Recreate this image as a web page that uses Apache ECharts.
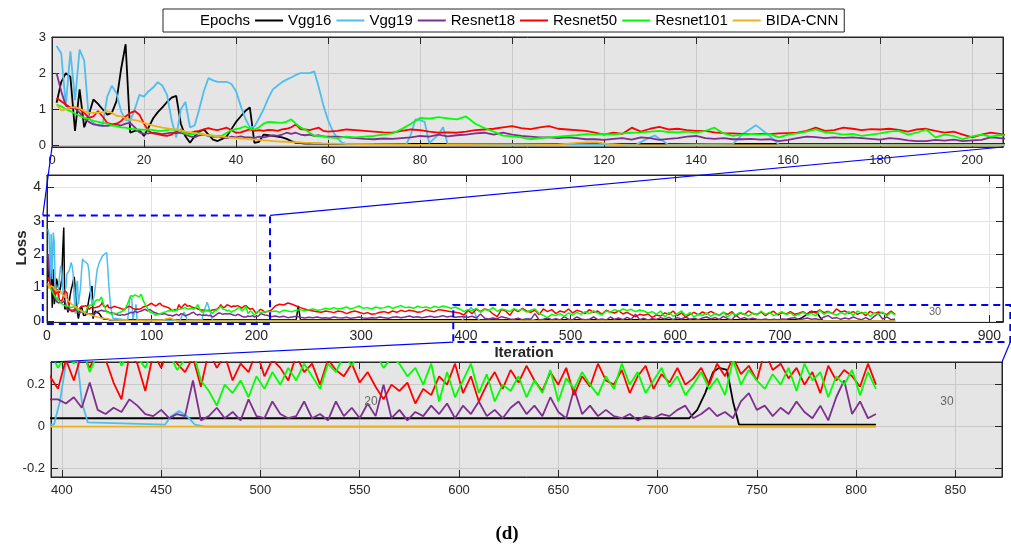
<!DOCTYPE html>
<html>
<head>
<meta charset="utf-8" />
<title>Loss</title>
<script src="https://cdn.jsdelivr.net/npm/echarts@6/dist/echarts.min.js"></script>
<style>
html, body { margin:0; padding:0; background:#fff; }
#main { width:1011px; height:547px; }
</style>
</head>
<body>
<div id="main"></div>
<script type="text/javascript">
var names = ['Vgg16', 'Vgg19', 'Resnet18', 'Resnet50', 'Resnet101', 'BIDA-CNN'];
var colors = ['#000000', '#4dbeee', '#7e2f8e', '#ff0000', '#00ff00', '#edb120'];

// iterations 1..60, one value per iteration
var vgg16A = [1.18,1.75,2.0,1.9,0.4,1.55,0.5,0.85,1.27,1.15,1.0,0.85,0.9,1.22,2.1,2.8,0.35,0.4,0.42,0.26,
  0.5,0.75,0.92,1.05,1.2,1.32,1.37,0.6,0.25,0.07,0.25,0.38,0.44,0.3,0.16,0.12,0.18,0.25,0.45,0.65,
  0.8,0.95,1.05,0.07,0.1,0.3,0.28,0.26,0.24,0.22,0.18,0.12,0.07,0.06,0.05,0.05,0.05,0.05,0.04,0.04];
var vgg19A = [2.75,2.55,1.1,2.6,1.25,2.65,2.35,0.75,0.62,0.55,0.55,1.35,1.65,1.45,0.95,0.7,0.68,1.0,1.4,1.35,
  1.5,1.6,1.75,1.65,1.4,0.7,0.22,1.0,1.2,0.5,0.55,1.0,1.5,1.86,1.8,1.76,1.76,1.76,1.7,1.5,
  1.1,0.75,0.5,0.52,0.75,1.0,1.3,1.55,1.65,1.75,1.82,1.88,1.95,2.0,2.0,2.0,2.05,1.6,1.1,0.7];
var res18A = [2.0,1.5,1.1,1.03,1.03,0.9,0.75,0.65,0.58,0.56,0.54,0.54,0.56,0.58,0.55,0.6,0.62,0.5,0.36,0.32,
  0.33,0.35,0.33,0.31,0.33,0.35,0.34,0.35,0.3,0.25,0.22,0.28,0.3,0.26,0.24,0.25,0.22,0.2,0.24,0.22,
  0.25,0.22,0.22,0.2,0.24,0.22,0.25,0.28,0.26,0.3,0.35,0.32,0.35,0.3,0.28,0.3,0.26,0.28,0.25,0.24];
var res50A = [1.31,1.22,1.13,1.05,1.05,1.0,0.9,0.76,0.8,0.95,0.8,0.62,0.58,0.6,0.67,0.8,0.9,0.95,0.85,0.6,
  0.4,0.33,0.31,0.28,0.26,0.3,0.38,0.44,0.35,0.34,0.38,0.4,0.44,0.48,0.44,0.42,0.46,0.49,0.42,0.35,
  0.36,0.4,0.44,0.4,0.42,0.4,0.43,0.42,0.4,0.44,0.46,0.5,0.58,0.45,0.44,0.42,0.46,0.49,0.4,0.38];
var res101A = [1.13,1.08,1.0,0.95,0.88,0.82,0.76,0.73,0.68,0.65,0.62,0.6,0.55,0.53,0.5,0.49,0.46,0.44,0.44,0.43,
  0.44,0.42,0.4,0.4,0.42,0.44,0.43,0.4,0.33,0.3,0.32,0.34,0.3,0.28,0.27,0.25,0.27,0.35,0.42,0.45,
  0.48,0.53,0.46,0.44,0.5,0.6,0.65,0.64,0.63,0.62,0.66,0.72,0.6,0.5,0.44,0.35,0.27,0.26,0.25,0.22];
var bidaA = [1.13,0.97,1.0,1.05,1.05,1.02,0.95,0.9,0.9,0.9,0.92,0.95,0.9,0.82,0.8,0.75,0.72,0.7,0.67,0.62,
  0.58,0.55,0.52,0.49,0.47,0.45,0.44,0.42,0.38,0.36,0.34,0.32,0.3,0.28,0.27,0.25,0.24,0.22,0.21,0.2,
  0.19,0.18,0.17,0.16,0.15,0.14,0.13,0.12,0.11,0.1,0.1,0.09,0.09,0.08,0.07,0.07,0.06,0.06,0.05,0.05];

// iterations 62..210, every 2
var res18B = [0.24,0.22,0.20,0.18,0.17,0.19,0.18,0.20,0.22,0.26,0.24,0.30,0.25,0.28,0.30,0.33,0.35,0.30,0.35,0.30,
  0.26,0.24,0.22,0.22,0.20,0.22,0.20,0.17,0.17,0.15,0.18,0.20,0.16,0.22,0.20,0.15,0.18,0.20,0.24,0.26,
  0.20,0.18,0.20,0.17,0.17,0.18,0.16,0.17,0.12,0.15,0.20,0.24,0.23,0.20,0.22,0.21,0.22,0.20,0.18,0.16,
  0.20,0.18,0.14,0.12,0.12,0.15,0.13,0.16,0.12,0.14,0.15,0.22,0.20,0.18,0.17];
var res50B = [0.40,0.44,0.42,0.40,0.38,0.36,0.35,0.40,0.44,0.42,0.38,0.35,0.36,0.35,0.38,0.42,0.44,0.46,0.50,0.53,
  0.48,0.45,0.50,0.53,0.46,0.44,0.42,0.40,0.35,0.30,0.35,0.32,0.49,0.38,0.46,0.51,0.44,0.46,0.42,0.40,
  0.40,0.36,0.34,0.33,0.32,0.31,0.32,0.31,0.33,0.34,0.35,0.40,0.49,0.40,0.42,0.49,0.46,0.42,0.45,0.44,
  0.46,0.43,0.38,0.44,0.46,0.40,0.35,0.38,0.30,0.22,0.30,0.35,0.32,0.26,0.28];
var res101B = [0.20,0.24,0.22,0.24,0.26,0.30,0.33,0.45,0.60,0.76,0.74,0.78,0.75,0.72,0.80,0.60,0.48,0.38,0.27,0.25,
  0.22,0.17,0.20,0.22,0.24,0.26,0.28,0.31,0.30,0.32,0.30,0.33,0.35,0.36,0.38,0.40,0.37,0.36,0.38,0.35,
  0.40,0.49,0.33,0.26,0.30,0.32,0.30,0.31,0.22,0.30,0.33,0.38,0.44,0.36,0.34,0.30,0.32,0.26,0.30,0.33,
  0.38,0.40,0.30,0.35,0.44,0.22,0.30,0.26,0.17,0.25,0.30,0.24,0.28,0.27,0.29];

// iterations 214..394, every 4
var res18C = [0.13,0.15,0.12,0.14,0.10,0.12,0.14,0.11,0.09,0.11,0.10,0.12,0.09,0.10,0.08,0.12,0.10,0.09,0.11,0.08,
  0.10,0.12,0.09,0.08,0.10,0.09,0.12,0.10,0.08,0.11,0.13,0.10,0.12,0.15,0.11,0.13,0.10,0.12,0.14,0.11,
  0.13,0.16,0.12,0.14,0.11,0.13];
var res50C = [0.32,0.45,0.50,0.48,0.54,0.50,0.45,0.40,0.36,0.32,0.30,0.28,0.26,0.30,0.28,0.25,0.30,0.28,0.22,0.27,
  0.30,0.26,0.22,0.25,0.20,0.22,0.26,0.28,0.24,0.30,0.26,0.32,0.28,0.32,0.30,0.26,0.28,0.34,0.30,0.28,
  0.34,0.32,0.30,0.28,0.26,0.24];
var res101C = [0.28,0.30,0.26,0.32,0.30,0.28,0.32,0.34,0.30,0.34,0.36,0.32,0.34,0.38,0.35,0.40,0.36,0.38,0.42,0.36,
  0.40,0.45,0.38,0.40,0.36,0.42,0.38,0.40,0.44,0.38,0.42,0.46,0.40,0.42,0.38,0.44,0.40,0.42,0.38,0.44,
  0.40,0.45,0.42,0.38,0.42,0.36];

// iterations 398..810, every 4
var res18D = [0.13,0.11,0.14,0.09,0.21,0.08,0.06,0.09,0.07,0.13,0.10,0.06,0.05,0.08,0.04,0.06,0.05,0.22,0.03,0.05,
  0.09,0.04,0.07,0.03,0.13,0.05,0.04,0.12,0.06,0.04,0.05,0.12,0.04,0.06,0.03,0.12,0.05,0.09,0.04,0.11,
  0.05,0.20,0.04,0.08,0.03,0.07,0.05,0.10,0.06,0.11,0.04,0.10,0.06,0.12,0.05,0.08,0.04,0.09,0.12,0.06,
  0.10,0.05,0.14,0.07,0.04,0.18,0.06,0.10,0.05,0.08,0.05,0.04,0.06,0.03,0.05,0.04,0.06,0.05,0.08,0.10,
  0.04,0.06,0.09,0.05,0.07,0.04,0.12,0.16,0.08,0.10,0.05,0.09,0.06,0.12,0.07,0.04,0.10,0.03,0.14,0.22,
  0.06,0.12,0.04,0.06];
var res50D = [0.18,0.32,0.22,0.35,0.28,0.36,0.32,0.21,0.13,0.34,0.30,0.17,0.35,0.28,0.38,0.30,0.26,0.33,0.19,0.36,
  0.28,0.34,0.22,0.30,0.26,0.36,0.24,0.32,0.28,0.22,0.34,0.26,0.30,0.20,0.32,0.27,0.24,0.30,0.21,0.26,
  0.19,0.13,0.20,0.17,0.21,0.11,0.18,0.15,0.24,0.20,0.30,0.16,0.24,0.12,0.20,0.26,0.18,0.27,0.21,0.29,
  0.22,0.17,0.26,0.20,0.28,0.15,0.24,0.19,0.30,0.22,0.20,0.27,0.16,0.24,0.29,0.18,0.25,0.21,0.28,0.20,
  0.23,0.28,0.20,0.30,0.24,0.33,0.25,0.29,0.22,0.36,0.27,0.30,0.23,0.28,0.20,0.26,0.16,0.29,0.22,0.27,
  0.24,0.19,0.30,0.20];
var res101D = [0.28,0.34,0.30,0.38,0.26,0.35,0.31,0.40,0.29,0.36,0.33,0.28,0.37,0.31,0.35,0.27,0.32,0.36,0.22,0.17,
  0.10,0.20,0.16,0.22,0.14,0.24,0.18,0.26,0.20,0.28,0.22,0.30,0.24,0.18,0.30,0.26,0.34,0.29,0.36,0.31,
  0.35,0.28,0.33,0.30,0.24,0.28,0.20,0.30,0.12,0.26,0.14,0.22,0.30,0.16,0.25,0.12,0.20,0.17,0.24,0.14,
  0.22,0.16,0.27,0.12,0.23,0.18,0.26,0.20,0.15,0.24,0.18,0.30,0.20,0.26,0.16,0.22,0.28,0.19,0.24,0.15,
  0.20,0.26,0.18,0.23,0.15,0.32,0.20,0.27,0.22,0.18,0.25,0.20,0.28,0.17,0.30,0.22,0.26,0.14,0.24,0.20,
  0.27,0.15,0.26,0.18];

// sparse tails [iteration, loss] for the curves that stay flat
var vgg16Tail = [[62,0.04],[238,0.04],[240,0.45],[242,0.04],[716,0.04],[720,0.08],[724,0.16],[728,0.26],
  [731,0.28],[735,0.27],[738,0.12],[741,0.01],[810,0.01]];
var vgg19Tail = [[61,0.4],[62,0.2],[63,0.08],[64,0.04],[77,0.03],[78,0.3],[79,0.72],[80,0.7],[81,0.65],[82,0.06],
  [84,0.3],[85,0.5],[86,0.04],[127,0.02],[129,0.16],[131,0.27],[134,0.02],[148,0.04],[150,0.3],[153,0.56],
  [156,0.26],[158,0.02],[396,0.01],[399,0.12],[402,0.3],[405,0.4],[408,0.3],[410,0.12],[413,0.02],[452,0.01],
  [455,0.05],[459,0.075],[463,0.05],[467,0.01],[472,0.0],[810,0.0]];
var bidaTail = [[64,0.04],[70,0.03],[78,0.02],[90,0.01],[100,0.0],[110,0.02],[114,0.07],[118,0.09],
  [121,0.04],[125,0.0],[810,0.0]];

function seg(start, step, vals) {
  var out = [];
  for (var i = 0; i < vals.length; i++) out.push([start + i * step, vals[i]]);
  return out;
}

var lossData = [
  seg(1, 1, vgg16A).concat(vgg16Tail),
  seg(1, 1, vgg19A).concat(vgg19Tail),
  seg(1, 1, res18A).concat(seg(62, 2, res18B), seg(214, 4, res18C), seg(398, 4, res18D)),
  seg(1, 1, res50A).concat(seg(62, 2, res50B), seg(214, 4, res50C), seg(398, 4, res50D)),
  seg(1, 1, res101A).concat(seg(62, 2, res101B), seg(214, 4, res101C), seg(398, 4, res101D)),
  seg(1, 1, bidaA).concat(bidaTail)
];

// axis ranges of the three panels: top zoom, full view, bottom zoom
var ranges = [
  { x: [0, 206.7], y: [-0.045, 3], xs: 20, ys: 1, bg: '#e5e5e5', split: '#c9c9c9', fs: 13 },
  { x: [0, 913], y: [-0.03, 4.37], xs: 100, ys: 1, bg: '#ffffff', split: '#e3e3e3', fs: 14 },
  { x: [394.5, 873.5], y: [-0.24, 0.308], xs: 50, ys: 0.2, bg: '#e5e5e5', split: '#c9c9c9', fs: 13 }
];
var grids = [
  { left: 52, top: 37, width: 951, height: 110 },
  { left: 47, top: 175, width: 956, height: 147 },
  { left: 51, top: 362, width: 951, height: 115 }
];

function fmt(step) {
  return function (v) {
    var r = v / step;
    if (Math.abs(r - Math.round(r)) > 1e-6) return '';
    return String(Math.round(v * 100) / 100);
  };
}

var axisColor = '#262626';
var font = 'Liberation Sans, Arial, sans-serif';
var xAxes = [], yAxes = [], gridOpts = [], series = [];

series.push({ name: 'Epochs', type: 'line', data: [], color: '#ffffff', symbol: 'none', xAxisIndex: 0, yAxisIndex: 0 });

for (var g = 0; g < 3; g++) {
  var r = ranges[g];
  gridOpts.push({ left: grids[g].left, top: grids[g].top, width: grids[g].width, height: grids[g].height,
    show: true, backgroundColor: r.bg, borderColor: axisColor, borderWidth: 1 });
  var base = {
    type: 'value', gridIndex: g,
    axisLine: { show: true, onZero: false, lineStyle: { color: axisColor, width: 1 } },
    axisTick: { show: true, inside: true, length: 7, lineStyle: { color: axisColor } }
  };
  xAxes.push(Object.assign({}, base, {
    min: r.x[0], max: r.x[1], minInterval: r.xs, maxInterval: r.xs, position: 'bottom',
    axisLabel: { formatter: fmt(r.xs), color: axisColor, fontSize: r.fs, fontFamily: font, margin: 7 },
    splitLine: { show: true, lineStyle: { color: r.split, width: 1 } }
  }));
  xAxes.push(Object.assign({}, base, {
    min: r.x[0], max: r.x[1], minInterval: r.xs, maxInterval: r.xs, position: 'top',
    axisLabel: { show: false }, splitLine: { show: false }
  }));
  yAxes.push(Object.assign({}, base, {
    min: r.y[0], max: r.y[1], minInterval: r.ys, maxInterval: r.ys, position: 'left',
    axisLabel: { formatter: fmt(r.ys), color: axisColor, fontSize: r.fs, fontFamily: font, margin: 6 },
    splitLine: { show: true, lineStyle: { color: r.split, width: 1 } }
  }));
  yAxes.push(Object.assign({}, base, {
    min: r.y[0], max: r.y[1], minInterval: r.ys, maxInterval: r.ys, position: 'right',
    axisLabel: { show: false }, splitLine: { show: false }
  }));
  for (var k = 0; k < names.length; k++) {
    series.push({
      name: names[k], type: 'line', xAxisIndex: 2 * g, yAxisIndex: 2 * g,
      data: lossData[k], color: colors[k], showSymbol: false, symbol: 'none', clip: true,
      lineStyle: { width: g === 1 ? 1.5 : 1.8, color: colors[k] }
    });
  }
}

var chart = echarts.init(document.getElementById('main'));
chart.setOption({
  animation: false,
  backgroundColor: '#ffffff',
  grid: gridOpts,
  xAxis: xAxes,
  yAxis: yAxes,
  legend: {
    data: ['Epochs'].concat(names), left: 163, top: 9, icon: 'rect', itemWidth: 28, itemHeight: 2, itemGap: 5,
    padding: [4, 6, 4, 4], borderColor: axisColor, borderWidth: 1, backgroundColor: '#ffffff',
    selectedMode: false, textStyle: { fontSize: 15, fontFamily: font, color: '#000000' }
  },
  series: series
});

// zoom boxes and the lines that tie them to the zoomed panels
function px(g, x, y) { return chart.convertToPixel({ seriesIndex: 1 + g * 6 }, [x, y]); }
var blue = '#0000ff';
var b1a = px(1, -4, 3.16), b1b = px(1, 213, -0.09);
var b2a = px(1, 388, 0.48), b2b = px(1, 920, -0.63);
var topL = px(0, ranges[0].x[0], ranges[0].y[0]), topR = px(0, ranges[0].x[1], ranges[0].y[0]);
var botL = px(2, ranges[2].x[0], ranges[2].y[1]), botR = px(2, ranges[2].x[1], ranges[2].y[1]);
var dash = { stroke: blue, fill: null, lineWidth: 2, lineDash: [7, 5] };
var solid = { stroke: blue, lineWidth: 1.2 };

chart.setOption({
  graphic: [
    { type: 'rect', z: 100, shape: { x: b1a[0], y: b1a[1], width: b1b[0] - b1a[0], height: b1b[1] - b1a[1] }, style: dash },
    { type: 'rect', z: 100, shape: { x: b2a[0], y: b2a[1], width: b2b[0] - b2a[0], height: b2b[1] - b2a[1] }, style: dash },
    { type: 'line', z: 100, shape: { x1: b1a[0], y1: b1a[1], x2: topL[0], y2: topL[1] }, style: solid },
    { type: 'line', z: 100, shape: { x1: b1b[0], y1: b1a[1], x2: topR[0], y2: topR[1] }, style: solid },
    { type: 'line', z: 100, shape: { x1: b2a[0], y1: b2b[1], x2: botL[0], y2: botL[1] }, style: solid },
    { type: 'line', z: 100, shape: { x1: b2b[0], y1: b2b[1], x2: botR[0], y2: botR[1] }, style: solid },
    { type: 'text', z: 100, x: 22, y: 248, rotation: Math.PI / 2,
      style: { text: 'Loss', fontSize: 15, fontWeight: 'bold', fontFamily: font, fill: axisColor, textAlign: 'center', textVerticalAlign: 'middle' } },
    { type: 'text', z: 100, x: 524, y: 353,
      style: { text: 'Iteration', fontSize: 15, fontWeight: 'bold', fontFamily: font, fill: axisColor, textAlign: 'center', textVerticalAlign: 'middle' } },
    { type: 'text', z: 100, x: 935, y: 312,
      style: { text: '30', fontSize: 11, fontFamily: font, fill: '#666666', textAlign: 'center', textVerticalAlign: 'middle' } },
    { type: 'text', z: 100, x: 371, y: 402,
      style: { text: '20', fontSize: 12, fontFamily: font, fill: '#666666', textAlign: 'center', textVerticalAlign: 'middle' } },
    { type: 'text', z: 100, x: 947, y: 402,
      style: { text: '30', fontSize: 12, fontFamily: font, fill: '#666666', textAlign: 'center', textVerticalAlign: 'middle' } },
    { type: 'text', z: 100, x: 507, y: 534,
      style: { text: '(d)', fontSize: 19, fontWeight: 'bold', fontFamily: 'Liberation Serif, DejaVu Serif, serif', fill: '#000000', textAlign: 'center', textVerticalAlign: 'middle' } }
  ]
});
</script>
</body>
</html>
